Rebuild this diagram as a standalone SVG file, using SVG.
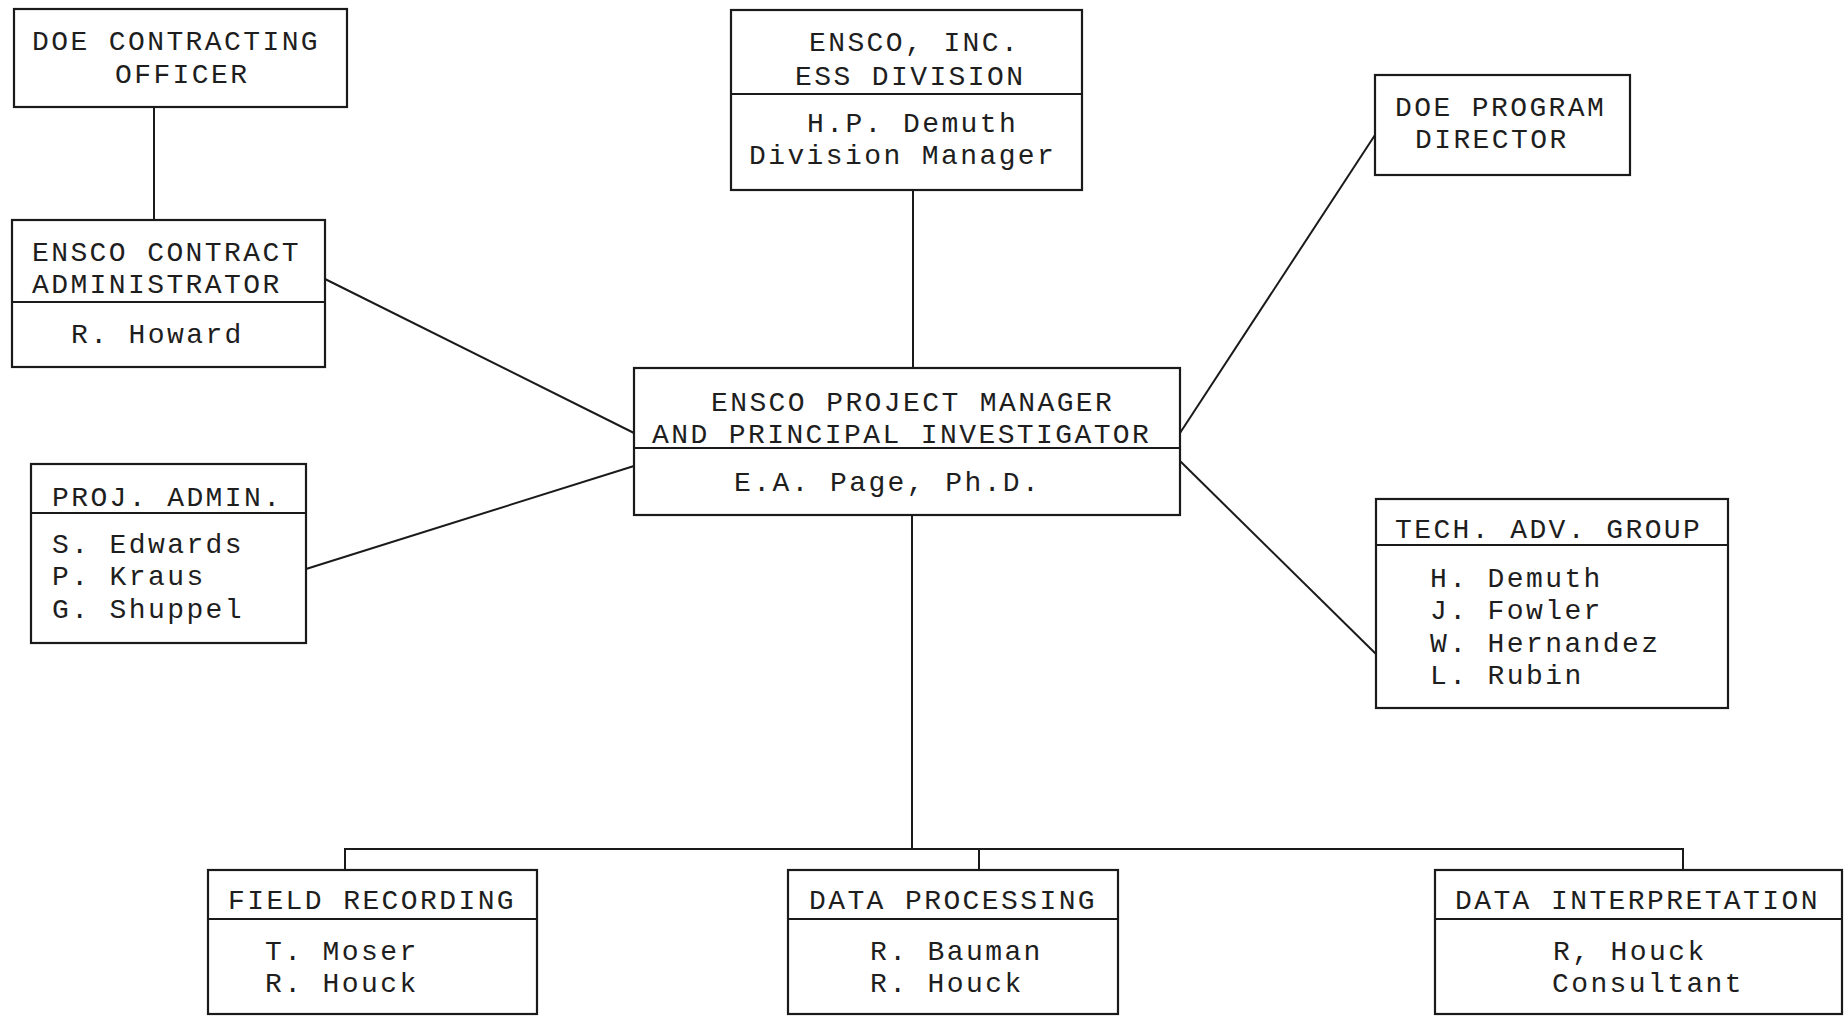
<svg xmlns="http://www.w3.org/2000/svg" width="1844" height="1019" viewBox="0 0 1844 1019">
<style>
.box{fill:none;stroke:#1a1a1a;stroke-width:2.2}
.div{stroke:#1a1a1a;stroke-width:2}
.ln{stroke:#1a1a1a;stroke-width:2;fill:none}
text{font-family:"Liberation Mono","DejaVu Sans Mono",monospace;font-size:28px;letter-spacing:2.4px;fill:#1e1e1e}
</style>
<rect width="1844" height="1019" fill="#ffffff"/>
<g id="connectors">
<line class="ln" x1="154" y1="107" x2="154" y2="220"/>
<line class="ln" x1="913" y1="190" x2="913" y2="368"/>
<line class="ln" x1="325" y1="279" x2="634" y2="433"/>
<line class="ln" x1="306" y1="569" x2="634" y2="466"/>
<line class="ln" x1="1180" y1="433" x2="1375" y2="135"/>
<line class="ln" x1="1180" y1="461" x2="1376" y2="654"/>
<line class="ln" x1="912" y1="515" x2="912" y2="849"/>
<polyline class="ln" points="345,870 345,849 1683,849 1683,870"/>
<line class="ln" x1="979" y1="849" x2="979" y2="870"/>
</g>
<g id="doe-contracting-officer">
<rect class="box" x="14" y="9" width="333" height="98"/>
<text x="32" y="50">DOE CONTRACTING</text>
<text x="115" y="83">OFFICER</text>
</g>
<g id="ensco-contract-administrator">
<rect class="box" x="12" y="220" width="313" height="147"/>
<line class="div" x1="12" y1="302" x2="325" y2="302"/>
<text x="32" y="261">ENSCO CONTRACT</text>
<text x="32" y="293">ADMINISTRATOR</text>
<text x="71" y="343">R. Howard</text>
</g>
<g id="ensco-inc">
<rect class="box" x="731" y="10" width="351" height="180"/>
<line class="div" x1="731" y1="94" x2="1082" y2="94"/>
<text x="809" y="51">ENSCO, INC.</text>
<text x="795" y="85">ESS DIVISION</text>
<text x="807" y="132">H.P. Demuth</text>
<text x="749" y="164">Division Manager</text>
</g>
<g id="doe-program-director">
<rect class="box" x="1375" y="75" width="255" height="100"/>
<text x="1395" y="116">DOE PROGRAM</text>
<text x="1415" y="148">DIRECTOR</text>
</g>
<g id="project-manager">
<rect class="box" x="634" y="368" width="546" height="147"/>
<line class="div" x1="634" y1="448" x2="1180" y2="448"/>
<text x="711" y="411">ENSCO PROJECT MANAGER</text>
<text x="652" y="443">AND PRINCIPAL INVESTIGATOR</text>
<text x="734" y="491">E.A. Page, Ph.D.</text>
</g>
<g id="proj-admin">
<rect class="box" x="31" y="464" width="275" height="179"/>
<line class="div" x1="31" y1="513" x2="306" y2="513"/>
<text x="52" y="506">PROJ. ADMIN.</text>
<text x="52" y="553">S. Edwards</text>
<text x="52" y="585">P. Kraus</text>
<text x="52" y="618">G. Shuppel</text>
</g>
<g id="tech-adv-group">
<rect class="box" x="1376" y="499" width="352" height="209"/>
<line class="div" x1="1376" y1="545" x2="1728" y2="545"/>
<text x="1395" y="538">TECH. ADV. GROUP</text>
<text x="1430" y="587">H. Demuth</text>
<text x="1430" y="619">J. Fowler</text>
<text x="1430" y="652">W. Hernandez</text>
<text x="1430" y="684">L. Rubin</text>
</g>
<g id="field-recording">
<rect class="box" x="208" y="870" width="329" height="144"/>
<line class="div" x1="208" y1="919" x2="537" y2="919"/>
<text x="228" y="909">FIELD RECORDING</text>
<text x="265" y="960">T. Moser</text>
<text x="265" y="992">R. Houck</text>
</g>
<g id="data-processing">
<rect class="box" x="788" y="870" width="330" height="144"/>
<line class="div" x1="788" y1="919" x2="1118" y2="919"/>
<text x="809" y="909">DATA PROCESSING</text>
<text x="870" y="960">R. Bauman</text>
<text x="870" y="992">R. Houck</text>
</g>
<g id="data-interpretation">
<rect class="box" x="1435" y="870" width="407" height="144"/>
<line class="div" x1="1435" y1="919" x2="1842" y2="919"/>
<text x="1455" y="909">DATA INTERPRETATION</text>
<text x="1553" y="960">R, Houck</text>
<text x="1552" y="992">Consultant</text>
</g>
</svg>
